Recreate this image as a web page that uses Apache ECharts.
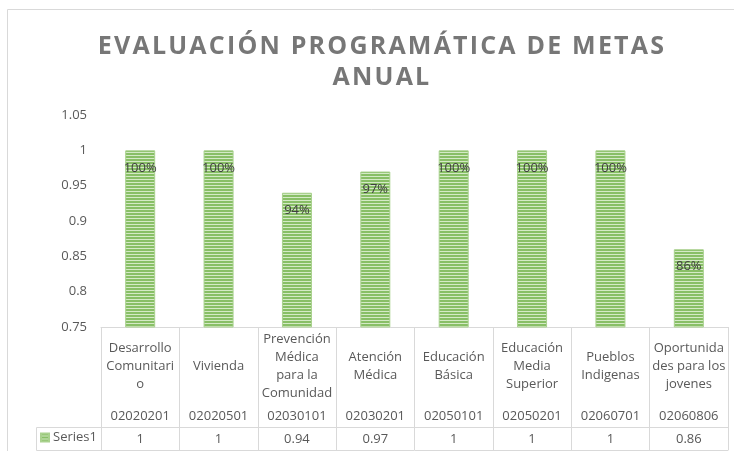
<!DOCTYPE html>
<html>
<head>
<meta charset="utf-8">
<script src="https://cdn.jsdelivr.net/npm/echarts@6/dist/echarts.min.js"></script>
<style>
  html, body { margin: 0; padding: 0; background: #fff; }
  #chart { width: 734px; height: 451px; }
</style>
</head>
<body>
<div id="chart"></div>
<script>
// datos
const titulo = ['EVALUACIÓN PROGRAMÁTICA DE METAS', 'ANUAL']
const programas = ['Desarrollo\nComunitari\no', 'Vivienda', 'Prevención\nMédica\npara la\nComunidad', 'Atención\nMédica',
  'Educación\nBásica', 'Educación\nMedia\nSuperior', 'Pueblos\nIndigenas', 'Oportunida\ndes para los\njovenes']
const claves = ['02020201', '02020501', '02030101', '02030201', '02050101', '02050201', '02060701', '02060806']
const series1 = [1, 1, 0.94, 0.97, 1, 1, 1, 0.86]
const yTicks = [0.75, 0.8, 0.85, 0.9, 0.95, 1, 1.05]

const gris = '#d9d9d9'
const texto = '#595959'

// relleno rayado de las barras
const pat = document.createElement('canvas')
pat.width = 4
pat.height = 3
const ctx = pat.getContext('2d')
ctx.fillStyle = '#88bf66'
ctx.fillRect(0, 0, 4, 3)
ctx.fillStyle = '#d4eac6'
ctx.fillRect(0, 2, 4, 1)

// espaciado entre letras del titulo (cada letra como fragmento rich)
const tituloRich = titulo.map(linea => linea.split('').map(c => '{s|' + c + '}').join('')).join('\n')

const chart = echarts.init(document.getElementById('chart'))
window.onresize = function () {
  chart.resize()
}

const baseX = {
  type: 'category',
  data: claves,
  position: 'bottom',
  axisTick: { show: false },
  axisLine: { show: false },
  axisLabel: { show: false }
}

chart.setOption({
  animation: false,
  textStyle: { fontFamily: 'Open Sans' },
  title: {
    text: tituloRich,
    left: 377,
    textAlign: 'center',
    top: 26,
    textStyle: {
      fontFamily: 'Open Sans',
      fontSize: 25,
      fontWeight: 'bold',
      color: '#777777',
      lineHeight: 31,
      rich: {
        s: {
          fontFamily: 'Open Sans',
          fontSize: 25,
          fontWeight: 'bold',
          color: '#777777',
          lineHeight: 31,
          padding: [0, 2.2, 0, 0]
        }
      }
    }
  },
  legend: {
    left: 40,
    top: 431,
    itemWidth: 8,
    itemHeight: 8,
    itemGap: 4,
    icon: 'rect',
    padding: 0,
    textStyle: { color: texto, fontSize: 13, padding: [0, 0, 0, -1] },
    data: ['Series1']
  },
  grid: { left: 101, right: 6, top: 115, bottom: 124 },
  xAxis: [
    {
      type: 'category',
      data: programas,
      position: 'bottom',
      axisLine: { lineStyle: { color: gris } },
      axisTick: { show: true, length: 123, lineStyle: { color: gris } },
      axisLabel: {
        interval: 0,
        margin: 39,
        verticalAlign: 'middle',
        lineHeight: 18,
        fontSize: 13,
        color: texto
      }
    },
    Object.assign({}, baseX, {
      axisLabel: { show: true, interval: 0, margin: 89, verticalAlign: 'middle', fontSize: 13, color: texto }
    }),
    Object.assign({}, baseX, {
      offset: 100,
      axisLine: { show: true, lineStyle: { color: gris } },
      axisLabel: {
        show: true,
        interval: 0,
        margin: 12,
        verticalAlign: 'middle',
        fontSize: 13,
        color: texto,
        formatter: (v, i) => String(series1[i])
      }
    }),
    Object.assign({}, baseX, {
      offset: 123,
      axisLine: { show: true, lineStyle: { color: gris } }
    })
  ],
  yAxis: {
    type: 'value',
    min: yTicks[0],
    max: yTicks[yTicks.length - 1],
    interval: 0.05,
    splitLine: { show: false },
    axisLine: { show: false },
    axisTick: { show: false },
    axisLabel: {
      margin: 14,
      fontSize: 13,
      color: texto,
      formatter: v => String(+v.toFixed(2))
    }
  },
  series: [{
    name: 'Series1',
    type: 'bar',
    data: series1,
    barWidth: 30,
    itemStyle: {
      color: { image: pat, repeat: 'repeat' },
      borderColor: '#a9d18e',
      borderWidth: 1
    },
    label: {
      show: true,
      position: 'insideTop',
      distance: 11,
      fontSize: 13,
      color: '#404040',
      formatter: p => Math.round(p.value * 100) + '%'
    }
  }],
  graphic: [
    // marco del area del grafico
    { type: 'rect', silent: true, shape: { x: 7.5, y: 9.5, width: 760, height: 500 }, style: { fill: null, stroke: gris, lineWidth: 1 } },
    // celda de la leyenda
    { type: 'polyline', silent: true, shape: { points: [[101, 427.5], [36.5, 427.5], [36.5, 450.5], [101, 450.5]] }, style: { fill: null, stroke: gris, lineWidth: 1 } }
  ]
})
</script>
</body>
</html>
